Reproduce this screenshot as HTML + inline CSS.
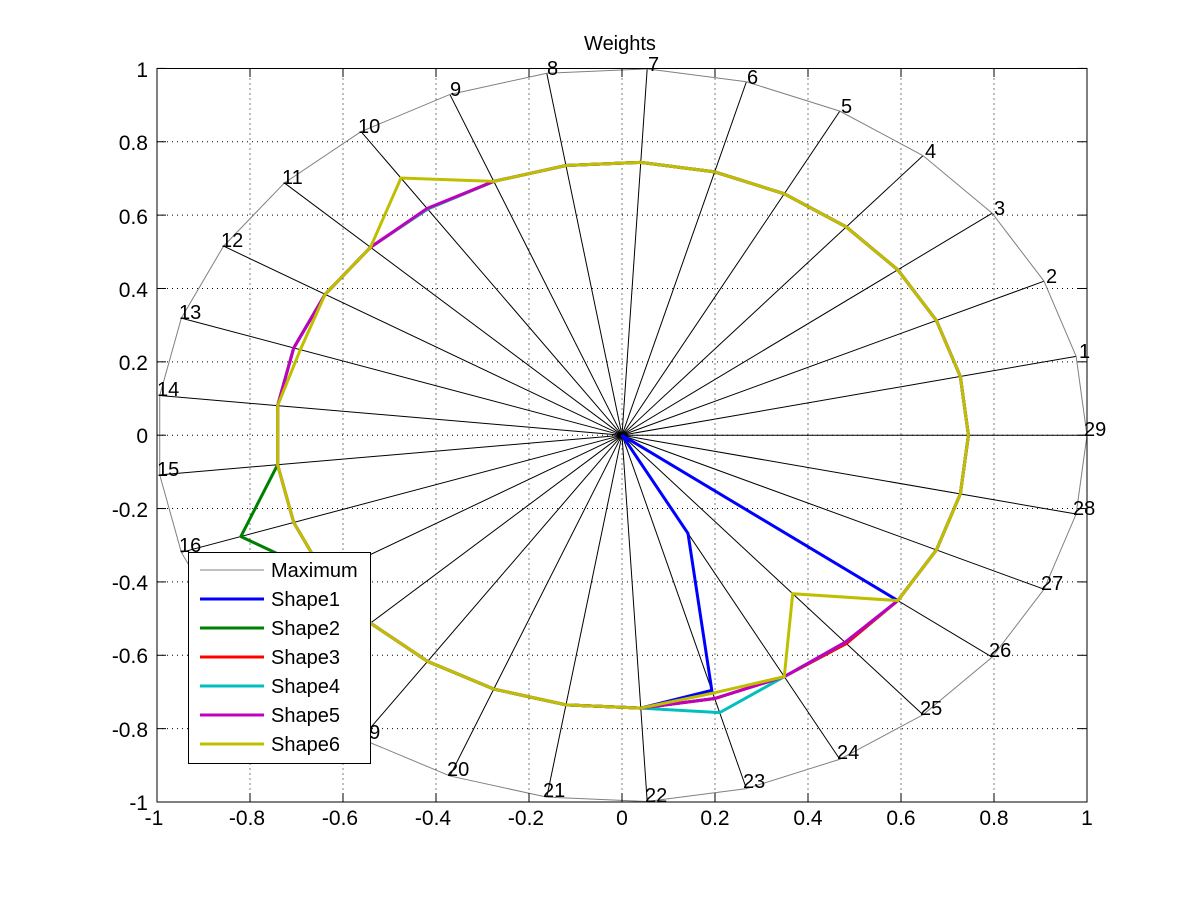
<!DOCTYPE html>
<html><head><meta charset="utf-8"><style>
html,body{margin:0;padding:0;background:#fff}
svg{display:block}
text{font-family:"Liberation Sans",Arial,sans-serif;fill:#000}
</style></head><body>
<svg id="s" width="1201" height="901" viewBox="0 0 1201 901" xmlns="http://www.w3.org/2000/svg">
<rect width="1201" height="901" fill="#fff"/>
<g id="grid" stroke="#000" stroke-width="1" stroke-dasharray="1,4" fill="none"></g>
<g id="spokes" stroke="#000" stroke-width="1" fill="none"></g>
<g id="series" fill="none" stroke-linejoin="miter"></g>
<rect x="157" y="68.5" width="930" height="733.5" fill="none" stroke="#000" stroke-width="1"/>
<g id="ticks" stroke="#000" stroke-width="1"></g>
<text x="620" y="50" font-size="20" text-anchor="middle">Weights</text>
<g font-size="20">
<text x="1079" y="358">1</text>
<text x="1046" y="283">2</text>
<text x="994" y="215">3</text>
<text x="925" y="158">4</text>
<text x="841" y="113">5</text>
<text x="747" y="84">6</text>
<text x="648" y="71">7</text>
<text x="547" y="75">8</text>
<text x="450" y="96">9</text>
<text x="358" y="133">10</text>
<text x="282" y="184">11</text>
<text x="221" y="247">12</text>
<text x="179" y="319">13</text>
<text x="157" y="396">14</text>
<text x="157" y="476">15</text>
<text x="179" y="552">16</text>
<text x="221" y="624">17</text>
<text x="282" y="687">18</text>
<text x="358" y="739">19</text>
<text x="447" y="776">20</text>
<text x="543" y="797">21</text>
<text x="645" y="802">22</text>
<text x="743" y="788">23</text>
<text x="837" y="759">24</text>
<text x="920" y="715">25</text>
<text x="989" y="657">26</text>
<text x="1041" y="590">27</text>
<text x="1073" y="515">28</text>
<text x="1084" y="436">29</text>
</g>
<g font-size="21" text-anchor="end">
<text x="148" y="77">1</text>
<text x="148" y="150">0.8</text>
<text x="148" y="224">0.6</text>
<text x="148" y="297">0.4</text>
<text x="148" y="370">0.2</text>
<text x="148" y="443">0</text>
<text x="148" y="517">-0.2</text>
<text x="148" y="590">-0.4</text>
<text x="148" y="663">-0.6</text>
<text x="148" y="737">-0.8</text>
<text x="148" y="810">-1</text>
</g>
<g font-size="21" text-anchor="middle">
<text x="154" y="825">-1</text>
<text x="247" y="825">-0.8</text>
<text x="340" y="825">-0.6</text>
<text x="433" y="825">-0.4</text>
<text x="526" y="825">-0.2</text>
<text x="622" y="825">0</text>
<text x="715" y="825">0.2</text>
<text x="808" y="825">0.4</text>
<text x="901" y="825">0.6</text>
<text x="994" y="825">0.8</text>
<text x="1087" y="825">1</text>
</g>
<g>
<rect x="188.5" y="552.5" width="182" height="211" fill="#fff" stroke="#000" stroke-width="1"/>
<line x1="200" y1="570" x2="264" y2="570" stroke="#808080" stroke-width="1"/>
<line x1="200" y1="599" x2="264" y2="599" stroke="#0000ff" stroke-width="3"/>
<line x1="200" y1="628" x2="264" y2="628" stroke="#008000" stroke-width="3"/>
<line x1="200" y1="657" x2="264" y2="657" stroke="#ff0000" stroke-width="3"/>
<line x1="200" y1="686" x2="264" y2="686" stroke="#00bfbf" stroke-width="3"/>
<line x1="200" y1="715" x2="264" y2="715" stroke="#bf00bf" stroke-width="3"/>
<line x1="200" y1="744" x2="264" y2="744" stroke="#bfbf00" stroke-width="3"/>
<g font-size="20">
<text x="271" y="577">Maximum</text>
<text x="271" y="606">Shape1</text>
<text x="271" y="635">Shape2</text>
<text x="271" y="664">Shape3</text>
<text x="271" y="693">Shape4</text>
<text x="271" y="722">Shape5</text>
<text x="271" y="751">Shape6</text>
</g>
</g>
</svg>
<script>
(function(){
var NS="http://www.w3.org/2000/svg";
var cx=622,cy=435.2,sx=465,sy=366.8;
function P(x,y){return [cx+x*sx,cy-y*sy];}
function el(p,tag,a){var e=document.createElementNS(NS,tag);for(var k in a)e.setAttribute(k,a[k]);p.appendChild(e);return e;}
var grid=document.getElementById('grid'),ticks=document.getElementById('ticks');
for(var i=-4;i<=4;i++){var v=i*0.2;var x=cx+v*sx;el(grid,'line',{x1:x,y1:68.5,x2:x,y2:802});var y=cy-v*sy;el(grid,'line',{x1:157,y1:y,x2:1087,y2:y});}
for(var i=-5;i<=5;i++){var v=i*0.2;var x=cx+v*sx,y=cy-v*sy;
el(ticks,'line',{x1:x,y1:802,x2:x,y2:793});el(ticks,'line',{x1:x,y1:68.5,x2:x,y2:77});
el(ticks,'line',{x1:157,y1:y,x2:166,y2:y});el(ticks,'line',{x1:1087,y1:y,x2:1078,y2:y});}
var sp=document.getElementById('spokes');
function pt(k,r){var a=k*2*Math.PI/29;return P(r*Math.cos(a),r*Math.sin(a));}
var mx=[];
for(var k=1;k<=29;k++){var q=pt(k,1);el(sp,'line',{x1:cx,y1:cy,x2:q[0],y2:q[1]});mx.push(q.join(','));}
var ser=document.getElementById('series');
el(ser,'polygon',{points:mx.join(' '),stroke:'#808080','stroke-width':1});
function poly(r,color){var pts=[];for(var k=1;k<=29;k++)pts.push(pt(k,r[k]).join(','));
el(ser,'polygon',{points:pts.join(' '),stroke:color,'stroke-width':3});}
function base(){var r=[];for(var k=0;k<=29;k++)r[k]=0.745;return r;}
el(ser,'polyline',{points:[pt(21,.745),pt(22,.745),pt(23,.722),pt(24,.303),[cx,cy],pt(26,.741),[cx,cy]].map(function(p){return p.join(',')}).join(' '),stroke:'#0000ff','stroke-width':3});
var g=base();g[16]=0.865;poly(g,'#008000');
var rd=base();poly(rd,'#ff0000');
var c=base();c[23]=0.785;c[25]=0.741;poly(c,'#00bfbf');
var m=base();m[10]=0.747;m[25]=0.741;poly(m,'#bf00bf');
var y=base();y[10]=0.847;y[23]=0.73;y[25]=0.567;y[13]=0.73;poly(y,'#bfbf00');
})();
</script>
</body></html>
